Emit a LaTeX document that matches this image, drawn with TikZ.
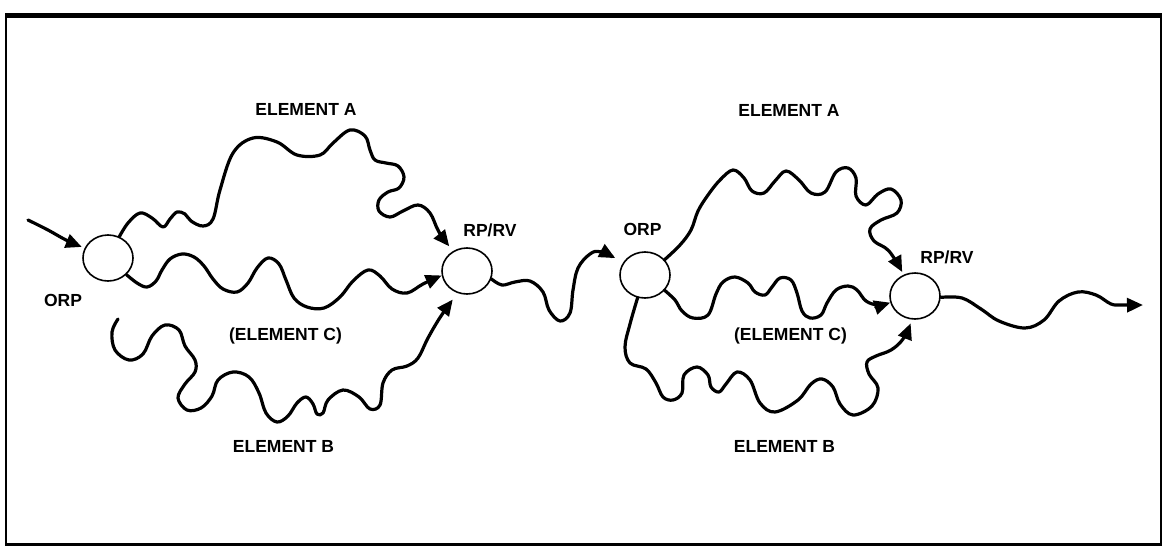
\documentclass[tikz,border=0pt]{standalone}
\usepackage{fontspec}
\setmainfont{Liberation Sans}
\usetikzlibrary{arrows.meta,shapes.geometric}
\begin{document}
\begin{tikzpicture}[x=1pt,y=-1pt,
  pt/.style={ellipse,draw,line width=1.6pt,minimum width=50pt,minimum height=46pt,inner sep=0pt},
  lbl/.style={anchor=base,font=\fontsize{17.5}{20}\selectfont\bfseries,inner sep=0pt},
  wave/.style={line width=3.2pt,line cap=round,line join=round},
  arr/.style={wave,-{Triangle[length=16pt,width=14pt]}}]
\useasboundingbox (0,0) rectangle (1168,547);
% frame
\draw[line width=2pt] (6,15) rectangle (1161,544);
\draw[line width=5pt] (5,15) -- (1162,15);
\draw[line width=3pt] (5,544) -- (1162,544);
% nodes
\node[pt] (orpL) at (108,258) {};
\node[pt] (rpL) at (467,271) {};
\node[pt] (orpR) at (645,275) {};
\node[pt] (rpR) at (915,296) {};
% labels
\node[lbl] (tAL) at (306,115) {ELEMENT A};
\node[lbl] (tAR) at (789,116) {ELEMENT A};
\node[lbl] (tRL) at (490,236.5) {RP/RV};
\node[lbl] (tRR) at (947,263) {RP/RV};
\node[lbl] (tOL) at (63,306.5) {ORP};
\node[lbl] (tOR) at (642.5,235) {ORP};
\node[lbl] (tCL) at (285.5,340) {(ELEMENT C)};
\node[lbl] (tCR) at (790.5,340) {(ELEMENT C)};
\node[lbl] (tBL) at (283.5,452) {ELEMENT B};
\node[lbl] (tBR) at (784.5,452) {ELEMENT B};
% free ends
\coordinate (inL) at (28,220);
\coordinate (bL) at (118,319);
\coordinate (outR) at (1143,305);
% incoming
\draw[arr, shorten >=3pt] plot[smooth,tension=0.6] coordinates {(inL) (48,230) (66,240) (orpL.157)};
% element A left
\draw[arr, shorten >=6pt] plot[smooth,tension=0.6] coordinates {(orpL.62) (128,223) (140,213) (152,218) (163,227) (170,219) (177,212) (185,214) (191,221) (203,226) (213,219) (220,190) (233,153) (253,138) (277,142) (297,155) (320,155) (333,143) (350,130) (365,136) (370,150) (375,160) (386,163) (398,166) (404,177) (399,188) (388,192) (379,200) (379,211) (390,217) (403,211) (418,205) (430,213) (439,232) (rpL.125)};
% element C left
\draw[arr] plot[smooth,tension=0.6] coordinates {(orpL.-42) (137,283) (147,287) (156,281) (162,270) (170,259) (182,254) (194,257) (204,266) (213,279) (223,289) (237,292) (248,283) (257,268) (268,258) (279,264) (286,280) (294,298) (307,307) (324,308) (340,297) (353,281) (368,270) (380,276) (392,289) (407,293) (423,284) (rpL.190)};
% element B left
\draw[arr, shorten >=8pt] plot[smooth,tension=0.6] coordinates {(bL) (112,332) (115,350) (129,360) (143,354) (152,336) (165,325) (179,330) (185,346) (195,360) (195,372) (185,384) (178,398) (187,410) (201,408) (212,396) (218,380) (233,372) (249,377) (259,393) (266,413) (277,422) (288,416) (297,403) (306,397) (313,404) (317,414) (323,413) (328,400) (343,390) (359,397) (370,409) (380,405) (383,383) (392,370) (407,366) (418,358) (428,338) (441,316) (rpL.-113)};
% link
\draw[arr, shorten >=9pt] plot[smooth,tension=0.6] coordinates {(rpL.-18) (502,285) (515,282) (530,281) (543,292) (549,310) (560,321) (570,313) (573,290) (578,268) (590,254) (601,252) (orpR.150)};
% element A right
\draw[arr, shorten >=3pt] plot[smooth,tension=0.6] coordinates {(orpR.38) (680,245) (691,230) (698,211) (708,195) (720,180) (733,170) (744,178) (752,191) (764,193) (775,181) (786,171) (799,180) (811,193) (825,192) (836,172) (848,168) (856,178) (856,196) (866,205) (878,194) (891,189) (901,200) (897,213) (881,220) (870,229) (874,241) (889,251) (rpR.118)};
% element C right
\draw[arr] plot[smooth,tension=0.6] coordinates {(orpR.-38) (675,300) (682,311) (693,318) (708,315) (716,294) (723,282) (735,277) (748,283) (755,292) (765,295) (772,287) (780,278) (791,280) (797,293) (802,311) (810,318) (821,315) (827,303) (836,290) (848,286) (857,290) (866,301) (878,305) (rpR.195)};
% element B right
\draw[arr, shorten >=4pt] plot[smooth,tension=0.6] coordinates {(orpR.-108) (630,324) (625,347) (630,363) (646,369) (656,383) (663,397) (673,400) (682,393) (684,375) (697,367) (708,375) (711,387) (719,392) (726,384) (737,372) (750,380) (760,403) (775,412) (798,400) (811,384) (822,379) (833,387) (840,404) (853,415) (872,406) (878,388) (869,374) (867,362) (876,356) (891,350) (903,339) (rpR.-97)};
% output
\draw[arr] plot[smooth,tension=0.6] coordinates {(rpR.-3) (962,298) (981,309) (999,321) (1025,328) (1044,320) (1059,301) (1078,292) (1096,295) (1111,304) (1122,305) (outR)};
\end{tikzpicture}
\end{document}
